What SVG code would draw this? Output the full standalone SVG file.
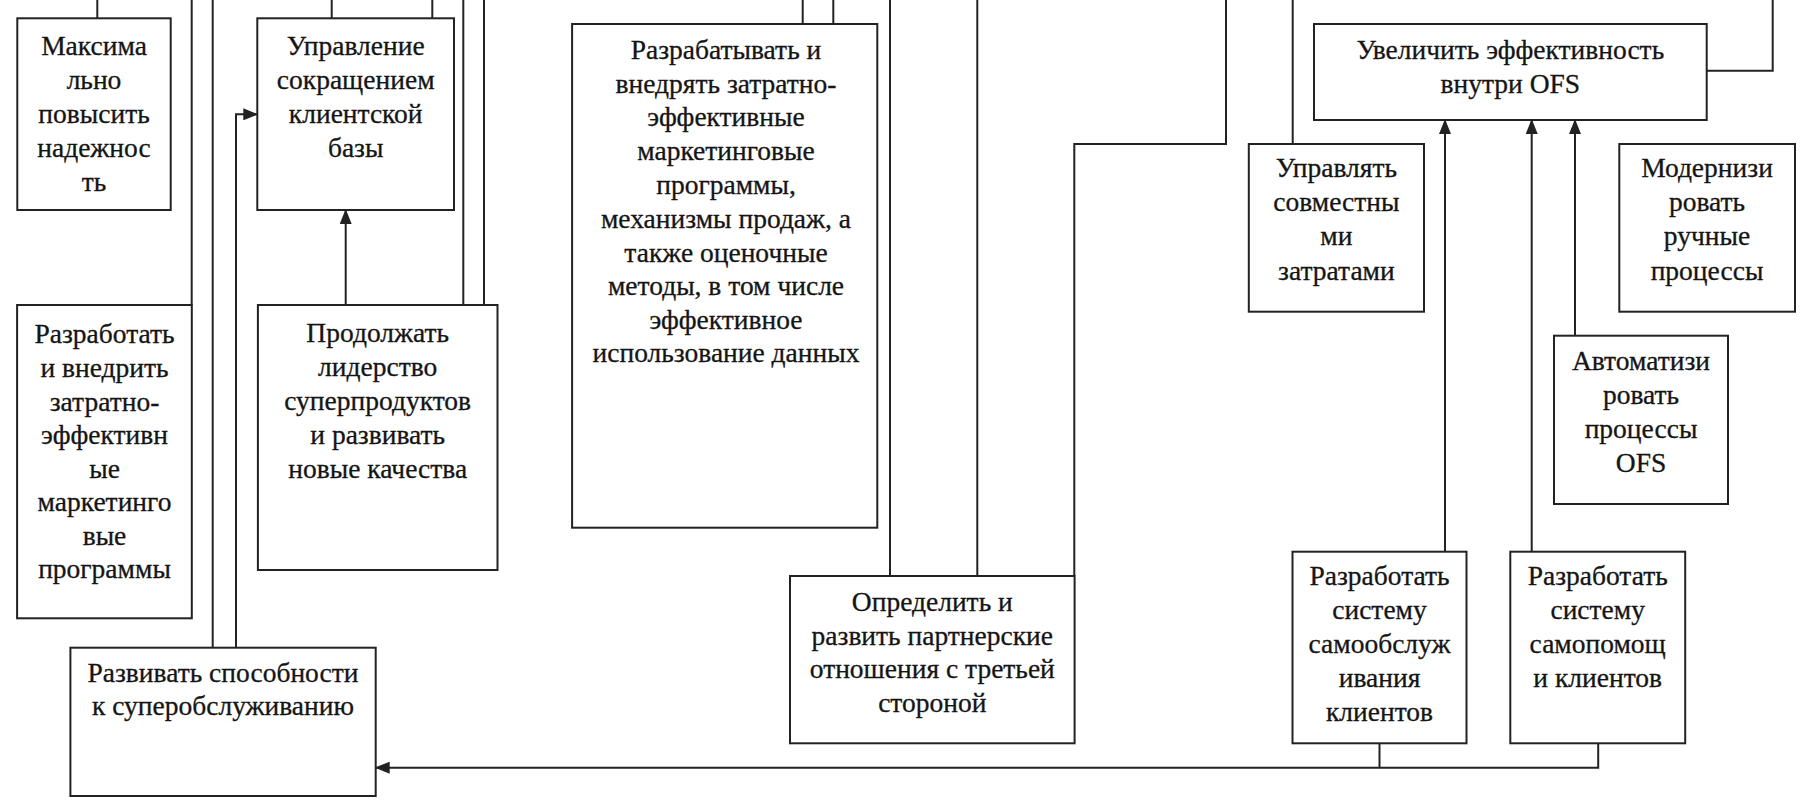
<svg xmlns="http://www.w3.org/2000/svg" width="1807" height="807" viewBox="0 0 1807 807">
<style>
  .box { fill: #fff; stroke: #222; stroke-width: 2; }
  .ln { fill: none; stroke: #222; stroke-width: 2; }
  text { font-family: "Liberation Serif", "Times New Roman", serif; font-size: 27.5px; fill: #151515; stroke: #151515; stroke-width: 0.3; text-anchor: middle; }
</style>
<defs>
  <marker id="arr" markerUnits="userSpaceOnUse" markerWidth="15" markerHeight="12" refX="14" refY="6" orient="auto">
    <path d="M0,0 L15,6 L0,12 Z" fill="#222"/>
  </marker>
</defs>
<rect width="1807" height="807" fill="#fff"/>

<g id="connectors">
  <path class="ln" d="M97.3,18.3 V0"/>
  <path class="ln" d="M191.7,0 V305"/>
  <path class="ln" d="M212.7,0 V647.7"/>
  <path class="ln" d="M236,647.7 V114.3 H257.3" marker-end="url(#arr)"/>
  <path class="ln" d="M331.7,18.3 V0"/>
  <path class="ln" d="M432.3,18.3 V0"/>
  <path class="ln" d="M345.7,305 V210" marker-end="url(#arr)"/>
  <path class="ln" d="M463.3,0 V311"/>
  <path class="ln" d="M484,0 V311"/>
  <path class="ln" d="M802.7,24 V0"/>
  <path class="ln" d="M833.3,24 V0"/>
  <path class="ln" d="M890,0 V576"/>
  <path class="ln" d="M977.3,0 V576"/>
  <path class="ln" d="M1226,0 V144 H1074.3 V576"/>
  <path class="ln" d="M1292.7,0 V144"/>
  <path class="ln" d="M1706.7,70.7 H1772.7 V0"/>
  <path class="ln" d="M1445,551.7 V120" marker-end="url(#arr)"/>
  <path class="ln" d="M1531.7,551.7 V120" marker-end="url(#arr)"/>
  <path class="ln" d="M1575,335.7 V120" marker-end="url(#arr)"/>
  <path class="ln" d="M1379.5,743.3 V767.7"/>
  <path class="ln" d="M1598.2,743.3 V767.7 H375.7" marker-end="url(#arr)"/>
</g>

<g id="n1">
  <rect class="box" x="17.3" y="18.3" width="153.4" height="191.7"/>
  <text x="94" y="55">Максима</text>
  <text x="94" y="89">льно</text>
  <text x="94" y="123">повысить</text>
  <text x="94" y="157">надежнос</text>
  <text x="94" y="191">ть</text>
</g>

<g id="n2">
  <rect class="box" x="17.1" y="305" width="174.7" height="313.3"/>
  <text x="104.5" y="343">Разработать</text>
  <text x="104.5" y="377">и внедрить</text>
  <text x="104.5" y="411">затратно-</text>
  <text x="104.5" y="444">эффективн</text>
  <text x="104.5" y="478">ые</text>
  <text x="104.5" y="511">маркетинго</text>
  <text x="104.5" y="545">вые</text>
  <text x="104.5" y="578">программы</text>
</g>

<g id="n3">
  <rect class="box" x="257.3" y="18.3" width="196.7" height="191.7"/>
  <text x="355.7" y="55">Управление</text>
  <text x="355.7" y="89">сокращением</text>
  <text x="355.7" y="123">клиентской</text>
  <text x="355.7" y="157">базы</text>
</g>

<g id="n4">
  <rect class="box" x="257.9" y="305" width="239.6" height="265"/>
  <text x="377.7" y="342">Продолжать</text>
  <text x="377.7" y="376">лидерство</text>
  <text x="377.7" y="410">суперпродуктов</text>
  <text x="377.7" y="444">и развивать</text>
  <text x="377.7" y="478">новые качества</text>
</g>

<g id="n5">
  <rect class="box" x="70.4" y="647.7" width="305.3" height="148.3"/>
  <text x="223" y="682">Развивать способности</text>
  <text x="223" y="715">к суперобслуживанию</text>
</g>

<g id="n6">
  <rect class="box" x="572.1" y="24" width="305.2" height="503.7"/>
  <text x="726" y="59">Разрабатывать и</text>
  <text x="726" y="93">внедрять затратно-</text>
  <text x="726" y="126">эффективные</text>
  <text x="726" y="160">маркетинговые</text>
  <text x="726" y="194">программы,</text>
  <text x="726" y="228">механизмы продаж, а</text>
  <text x="726" y="262">также оценочные</text>
  <text x="726" y="295">методы, в том числе</text>
  <text x="726" y="329">эффективное</text>
  <text x="726" y="362">использование данных</text>
</g>

<g id="n7">
  <rect class="box" x="790" y="576" width="284.6" height="167.3"/>
  <text x="932.3" y="611">Определить и</text>
  <text x="932.3" y="645">развить партнерские</text>
  <text x="932.3" y="678">отношения с третьей</text>
  <text x="932.3" y="712">стороной</text>
</g>

<g id="n8">
  <rect class="box" x="1314" y="24" width="392.7" height="96"/>
  <text x="1510.3" y="59">Увеличить эффективность</text>
  <text x="1510.3" y="93">внутри OFS</text>
</g>

<g id="n9">
  <rect class="box" x="1248.8" y="144" width="175.2" height="167.7"/>
  <text x="1336.4" y="177">Управлять</text>
  <text x="1336.4" y="211">совместны</text>
  <text x="1336.4" y="245">ми</text>
  <text x="1336.4" y="280">затратами</text>
</g>

<g id="n10">
  <rect class="box" x="1619.3" y="144" width="175.7" height="167.7"/>
  <text x="1707" y="177">Модернизи</text>
  <text x="1707" y="211">ровать</text>
  <text x="1707" y="245">ручные</text>
  <text x="1707" y="280">процессы</text>
</g>

<g id="n11">
  <rect class="box" x="1554" y="335.7" width="174" height="168.3"/>
  <text x="1641" y="370">Автоматизи</text>
  <text x="1641" y="404">ровать</text>
  <text x="1641" y="438">процессы</text>
  <text x="1641" y="472">OFS</text>
</g>

<g id="n12">
  <rect class="box" x="1292.5" y="551.7" width="174" height="191.6"/>
  <text x="1379.5" y="585">Разработать</text>
  <text x="1379.5" y="619">систему</text>
  <text x="1379.5" y="653">самообслуж</text>
  <text x="1379.5" y="687">ивания</text>
  <text x="1379.5" y="721">клиентов</text>
</g>

<g id="n13">
  <rect class="box" x="1510.3" y="551.7" width="174.9" height="191.6"/>
  <text x="1597.7" y="585">Разработать</text>
  <text x="1597.7" y="619">систему</text>
  <text x="1597.7" y="653">самопомощ</text>
  <text x="1597.7" y="687">и клиентов</text>
</g>
</svg>
